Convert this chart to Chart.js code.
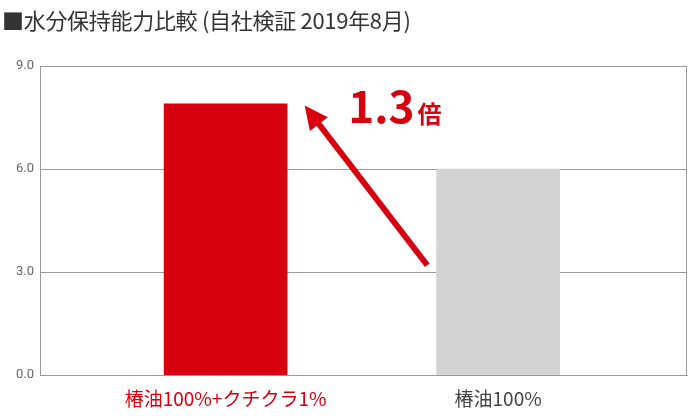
<!DOCTYPE html><html><head><meta charset="utf-8">
<script src="https://cdn.jsdelivr.net/npm/chart.js"></script>
<style>body{margin:0;background:#fff}#w{position:relative;width:688px;height:416px}
#t{position:absolute;left:2px;top:3px;font:22px "Noto Sans CJK JP";color:#333;letter-spacing:-0.3px}</style></head><body>
<div id="w"><div id="t">■水分保持能力比較 (自社検証 2019年8月)</div><canvas id="c" width="688" height="416"></canvas></div>
<script>
const categories=["椿油100%+クチクラ1%","椿油100%"];
const values=[7.9,6.0];
const colors=["#d7000f","#d3d3d3"];
const labelColors=["#d7000f","#444"];
const yTicks=[0,3,6,9];
const ratioText="1.3";
const arrowPlugin={id:"arr",afterDatasetsDraw(ch){
 const x=ch.scales.x,y=ch.scales.y,c=ch.ctx;
 const sx=x.getPixelForValue(1.74),sy=y.getPixelForValue(3.2);
 const ex=x.getPixelForValue(1.29),ey=y.getPixelForValue(7.85);
 c.save();c.strokeStyle=c.fillStyle="#d7000f";c.lineWidth=6;
 const a=Math.atan2(ey-sy,ex-sx);const hl=26;
 const bx=ex-Math.cos(a)*hl*0.8,by=ey-Math.sin(a)*hl*0.8;
 c.beginPath();c.moveTo(sx,sy);c.lineTo(bx,by);c.stroke();
 c.beginPath();c.moveTo(ex,ey);
 c.lineTo(ex-hl*Math.cos(a-0.45),ey-hl*Math.sin(a-0.45));
 c.lineTo(ex-hl*Math.cos(a+0.45),ey-hl*Math.sin(a+0.45));c.closePath();c.fill();
 c.font='bold 44px "Noto Sans CJK JP"';c.textBaseline="alphabetic";
 const tx=x.getPixelForValue(1.45),ty=y.getPixelForValue(7.35);
 c.fillText(ratioText,tx,ty);const w=c.measureText(ratioText).width;
 c.font='bold 24px "Noto Sans CJK JP"';c.fillText("倍",tx+w+3,ty);c.restore();}};
new Chart(document.getElementById("c"),{type:"bar",
 data:{datasets:[{data:values.map((v,i)=>({x:i+1,y:v})),backgroundColor:colors,barThickness:123}]},
 options:{responsive:false,animation:false,layout:{padding:{top:66,right:1,left:0,bottom:2}},
  plugins:{legend:{display:false},tooltip:{enabled:false}},
  scales:{x:{type:"linear",offset:false,bounds:"data",min:0.319,max:2.693,afterBuildTicks(s){s.ticks=[{value:1},{value:2}]},
    grid:{display:false},border:{color:"#999"},
    ticks:{callback:v=>categories[v-1],color:c=>labelColors[c.index],font:{size:19,family:"Noto Sans CJK JP"},padding:4,maxRotation:0,autoSkip:false}},
   y:{min:0,max:9,afterFit(s){s.width=40},afterBuildTicks(s){s.ticks=yTicks.map(v=>({value:v}))},
    grid:{color:"#999",drawTicks:false},border:{color:"#999"},
    ticks:{callback:v=>v.toFixed(1),color:"#666",font:{size:13,family:"Roboto"},padding:6}}}},
 plugins:[arrowPlugin,{id:"rb",afterDraw(ch){const a=ch.chartArea,c=ch.ctx;c.save();c.strokeStyle="#999";c.lineWidth=1;c.beginPath();c.moveTo(a.right-0.5,a.top);c.lineTo(a.right-0.5,a.bottom);c.stroke();c.restore();}}]});
</script></body></html>
